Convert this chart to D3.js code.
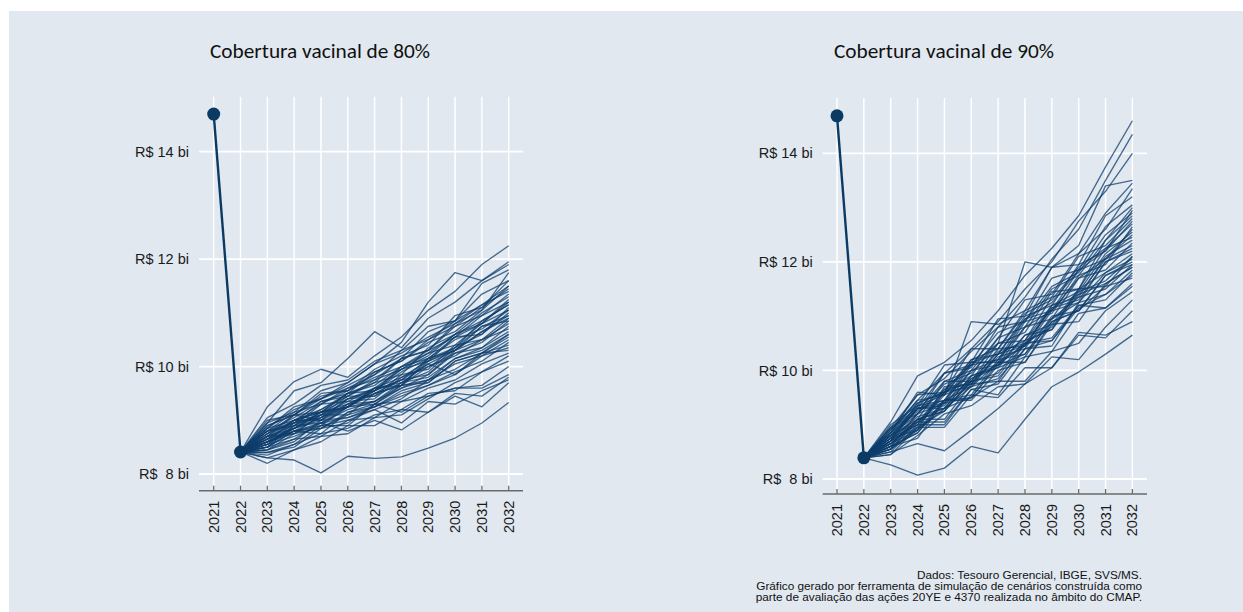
<!DOCTYPE html>
<html lang="pt-BR">
<head>
<meta charset="utf-8">
<script src="https://cdn.jsdelivr.net/npm/d3@7"></script>
<style>
  html, body { margin: 0; padding: 0; background: #ffffff; }
  svg { display: block; }
  .titulo { font-family: Carlito, Calibri, "Open Sans", sans-serif; font-size: 21.3px; font-weight: 400; fill: #111; }
  .rotulo { font-family: "Liberation Sans", Arial, sans-serif; font-size: 14.5px; fill: #1a1a1a; }
  .fonte { font-family: "Liberation Sans", Arial, sans-serif; font-size: 10px; fill: #111; }
</style>
</head>
<body>
<svg id="grafico" width="1243" height="612"></svg>
<script>
// Anos do horizonte de projeção
const anos = [2021, 2022, 2023, 2024, 2025, 2026, 2027, 2028, 2029, 2030, 2031, 2032];
const anosSimulados = anos.slice(1); // cada simulação parte de 2022

// Marcas do eixo vertical (R$ bilhões)
const ticksY = [8, 10, 12, 14];
const rotulosY = ["R$  8 bi", "R$ 10 bi", "R$ 12 bi", "R$ 14 bi"];

const titulos = ["Cobertura vacinal de 80%", "Cobertura vacinal de 90%"];

const notaFonte = [
  "Dados: Tesouro Gerencial, IBGE, SVS/MS.",
  "Gráfico gerado por ferramenta de simulação de cenários construída como",
  "parte de avaliação das ações 20YE e 4370 realizada no âmbito do CMAP."
];

// Valores observados 2021–2022
const historico80 = [14.70, 8.41];
const historico90 = [14.69, 8.39];

// Trajetórias simuladas 2023–2032, cobertura de 80%
const simulacoes80 = [
  [8.30, 8.26, 8.02, 8.33, 8.29, 8.32, 8.48, 8.67, 8.95, 9.33],
  [9.25, 9.72, 9.95, 9.80, 10.20, 10.55, 11.05, 11.40, 11.90, 12.25],
  [8.95, 9.55, 9.70, 10.15, 10.65, 10.35, 10.90, 11.20, 11.60, 11.95],
  [8.85, 9.20, 9.40, 9.70, 10.05, 10.45, 11.20, 11.75, 11.60, 11.90],
  [8.60, 8.80, 8.95, 9.05, 9.20, 8.95, 9.35, 9.30, 9.55, 9.75],
  [8.50, 8.65, 8.95, 8.80, 9.00, 8.82, 9.15, 9.45, 9.25, 9.70],
  [8.70, 9.00, 9.15, 9.50, 9.55, 10.00, 10.25, 10.60, 10.80, 11.25],
  [8.80, 9.05, 9.35, 9.50, 9.90, 10.10, 10.50, 10.75, 11.10, 11.45],
  [8.65, 8.80, 9.05, 9.25, 9.55, 9.75, 10.05, 10.30, 10.75, 10.95],
  [8.55, 8.85, 9.05, 9.30, 9.35, 9.70, 9.80, 10.15, 10.35, 10.75],
  [8.90, 9.10, 9.45, 9.55, 9.80, 10.00, 10.30, 10.55, 10.95, 11.20],
  [8.45, 8.75, 8.85, 9.10, 9.25, 9.50, 9.65, 9.90, 10.10, 10.45],
  [8.75, 8.95, 9.20, 9.45, 9.75, 9.95, 10.25, 10.40, 10.80, 11.05],
  [8.60, 8.80, 8.90, 9.25, 9.30, 9.60, 9.85, 10.25, 10.35, 10.65],
  [8.35, 8.55, 8.90, 8.90, 9.30, 9.35, 9.60, 9.75, 10.05, 10.25],
  [8.70, 9.10, 9.00, 9.40, 9.60, 9.95, 10.10, 10.55, 10.60, 11.10],
  [9.05, 9.30, 9.65, 9.75, 10.10, 10.30, 10.75, 10.85, 11.35, 11.60],
  [8.50, 8.80, 8.75, 9.15, 9.30, 9.65, 9.70, 10.10, 10.25, 10.55],
  [8.80, 8.90, 9.30, 9.35, 9.60, 9.65, 10.15, 10.30, 10.65, 10.90],
  [8.65, 8.95, 9.10, 9.35, 9.40, 9.80, 10.00, 10.25, 10.45, 10.85],
  [8.40, 8.55, 8.75, 8.85, 9.10, 9.20, 9.50, 9.55, 9.90, 10.10],
  [8.85, 9.25, 9.40, 9.60, 9.85, 10.30, 10.50, 10.85, 11.15, 11.50],
  [8.60, 8.85, 9.10, 9.10, 9.50, 9.65, 10.00, 10.20, 10.50, 10.70],
  [8.70, 8.85, 9.15, 9.30, 9.55, 9.75, 10.15, 10.35, 10.85, 11.15],
  [8.45, 8.65, 8.70, 9.00, 9.05, 9.35, 9.45, 9.60, 9.60, 9.85],
  [8.75, 9.10, 9.15, 9.50, 9.70, 10.15, 10.30, 10.75, 10.95, 11.35],
  [8.55, 8.70, 8.90, 9.00, 9.20, 9.40, 9.75, 9.95, 10.25, 10.40],
  [8.95, 9.15, 9.55, 9.70, 10.05, 10.25, 10.55, 10.80, 11.15, 11.40],
  [8.60, 9.00, 9.00, 9.25, 9.55, 9.90, 10.15, 10.50, 10.70, 11.05],
  [8.30, 8.45, 8.60, 8.90, 8.90, 9.20, 9.15, 9.50, 9.45, 9.80],
  [8.80, 8.95, 9.35, 9.45, 9.70, 9.85, 10.35, 10.60, 11.00, 11.30],
  [8.65, 8.85, 9.00, 9.30, 9.50, 9.75, 9.85, 10.30, 10.50, 10.80],
  [8.50, 8.90, 8.95, 9.25, 9.35, 9.60, 9.75, 10.05, 10.20, 10.50],
  [8.90, 9.10, 9.40, 9.65, 9.90, 10.10, 10.45, 10.65, 11.05, 11.75],
  [8.70, 8.90, 9.10, 9.45, 9.45, 9.70, 9.90, 10.35, 10.60, 11.00],
  [8.45, 8.60, 9.00, 9.05, 9.25, 9.45, 9.65, 9.85, 10.20, 10.35],
  [8.75, 9.00, 9.20, 9.50, 9.65, 10.00, 10.15, 10.55, 10.80, 11.20],
  [8.60, 8.75, 8.95, 9.20, 9.35, 9.65, 9.75, 10.15, 10.30, 10.60],
  [8.55, 8.90, 9.15, 9.25, 9.60, 9.70, 10.05, 9.85, 10.25, 10.30],
  [8.85, 9.00, 9.30, 9.55, 9.85, 10.15, 10.65, 10.85, 11.55, 11.80],
  [8.40, 8.50, 8.85, 8.95, 9.30, 9.15, 9.45, 9.60, 9.65, 10.00],
  [8.65, 9.00, 9.15, 9.40, 9.55, 9.95, 10.20, 10.60, 10.85, 11.15],
  [8.70, 8.75, 9.10, 9.25, 9.60, 9.80, 10.10, 10.30, 10.65, 10.95],
  [8.50, 8.80, 8.85, 9.15, 9.25, 9.55, 9.70, 10.10, 10.25, 10.60],
  [8.80, 9.15, 9.30, 9.60, 9.75, 10.15, 10.30, 10.80, 11.05, 11.50],
  [8.60, 8.85, 9.15, 9.25, 9.50, 9.65, 10.10, 10.35, 10.75, 10.85],
  [8.20, 8.45, 8.70, 8.75, 9.05, 9.10, 9.40, 9.70, 9.90, 10.20],
  [9.00, 9.10, 9.50, 9.55, 9.95, 10.20, 10.40, 10.95, 11.10, 11.60],
  [8.55, 8.95, 9.05, 9.40, 9.45, 9.85, 9.95, 10.40, 10.50, 10.90]
];

// Trajetórias simuladas 2023–2032, cobertura de 90%
const simulacoes90 = [
  [8.26, 8.07, 8.20, 8.60, 8.48, 9.10, 9.70, 9.97, 10.30, 10.65],
  [8.50, 8.65, 8.52, 8.90, 9.30, 9.75, 10.05, 10.70, 10.65, 10.90],
  [9.05, 9.90, 10.15, 10.55, 11.10, 11.75, 12.25, 12.85, 13.75, 14.60],
  [8.95, 9.55, 9.85, 10.35, 10.80, 11.35, 12.05, 12.60, 13.50, 14.35],
  [8.90, 9.45, 9.95, 10.40, 10.90, 11.50, 12.00, 12.75, 13.30, 14.00],
  [8.85, 9.60, 9.55, 10.90, 10.85, 11.10, 11.90, 12.30, 13.40, 13.50],
  [8.70, 9.20, 9.65, 10.10, 10.50, 12.00, 11.90, 12.15, 12.90, 13.45],
  [8.60, 9.10, 9.25, 9.80, 9.90, 10.50, 10.60, 11.20, 11.15, 11.60],
  [8.75, 9.00, 9.65, 9.75, 10.40, 10.45, 11.20, 11.35, 12.10, 12.40],
  [8.65, 9.10, 9.30, 9.70, 9.85, 10.40, 10.55, 11.15, 11.40, 11.85],
  [8.80, 9.35, 9.45, 10.15, 10.15, 10.90, 11.05, 11.75, 11.95, 12.65],
  [8.55, 8.90, 9.30, 9.50, 9.80, 9.80, 10.35, 10.50, 11.10, 11.45],
  [8.95, 9.20, 9.95, 10.05, 10.80, 10.90, 11.70, 11.85, 12.65, 13.05],
  [8.70, 9.30, 9.30, 9.90, 10.05, 10.65, 10.75, 11.50, 11.55, 12.10],
  [8.60, 8.75, 9.45, 9.45, 10.00, 10.15, 10.85, 10.90, 11.60, 11.90],
  [8.85, 9.45, 9.55, 10.20, 10.30, 11.00, 11.20, 11.95, 12.20, 12.95],
  [8.75, 8.90, 9.70, 9.75, 10.25, 10.40, 11.10, 11.25, 12.00, 12.20],
  [8.45, 8.95, 8.95, 9.55, 9.50, 10.05, 10.05, 10.65, 10.60, 11.10],
  [8.90, 9.55, 9.60, 10.40, 10.40, 11.10, 11.35, 12.10, 12.30, 12.80],
  [8.65, 8.90, 9.45, 9.55, 10.20, 10.30, 11.00, 11.10, 11.75, 12.00],
  [8.80, 9.30, 9.40, 10.10, 10.20, 10.95, 11.10, 11.85, 12.05, 12.50],
  [8.70, 8.95, 9.60, 9.70, 10.30, 10.45, 11.15, 11.30, 12.00, 12.25],
  [8.55, 9.05, 9.05, 9.65, 9.75, 10.40, 10.45, 11.25, 11.40, 11.75],
  [9.00, 9.35, 10.10, 10.15, 10.95, 11.00, 11.90, 11.95, 12.85, 13.20],
  [8.75, 9.30, 9.35, 10.00, 10.10, 10.80, 10.95, 11.70, 11.85, 12.35],
  [8.60, 8.85, 9.45, 9.50, 10.15, 10.15, 10.90, 11.10, 11.55, 11.70],
  [8.85, 9.35, 9.55, 10.15, 10.30, 10.95, 11.25, 11.85, 12.20, 12.75],
  [8.65, 9.05, 9.45, 9.70, 10.15, 10.45, 10.95, 11.25, 11.80, 12.05],
  [8.80, 9.10, 9.80, 9.80, 10.50, 10.55, 11.35, 11.50, 12.25, 12.45],
  [8.50, 9.00, 9.00, 9.65, 9.55, 10.25, 10.35, 11.05, 11.15, 11.55],
  [8.95, 9.30, 9.95, 10.10, 10.70, 10.90, 11.55, 11.80, 12.50, 12.90],
  [8.70, 9.15, 9.30, 9.90, 10.10, 10.65, 10.85, 11.50, 11.80, 12.15],
  [8.60, 8.85, 9.40, 9.50, 10.10, 10.30, 10.90, 11.10, 11.75, 11.95],
  [8.75, 9.30, 9.45, 10.00, 10.20, 10.80, 11.10, 11.70, 12.05, 12.60],
  [8.85, 9.25, 9.80, 10.00, 10.60, 10.80, 11.50, 11.75, 12.40, 13.00],
  [8.65, 9.10, 9.25, 9.80, 9.95, 10.55, 10.75, 11.40, 11.60, 11.90],
  [8.80, 9.05, 9.60, 9.80, 10.35, 10.50, 11.15, 11.40, 12.05, 12.30],
  [8.55, 9.10, 9.10, 9.75, 9.80, 10.50, 10.55, 11.20, 11.30, 11.80],
  [8.90, 9.40, 9.60, 10.20, 10.40, 11.05, 11.30, 11.90, 12.25, 12.70],
  [8.70, 9.00, 9.55, 9.75, 10.30, 10.55, 11.20, 11.45, 12.15, 12.55],
  [8.60, 9.20, 9.40, 9.85, 10.10, 10.50, 10.80, 11.45, 11.65, 12.10],
  [8.80, 9.20, 9.75, 9.95, 10.50, 10.70, 11.45, 11.50, 12.40, 12.85],
  [8.45, 8.80, 9.20, 9.35, 9.70, 9.75, 10.25, 10.20, 10.80, 11.30],
  [8.70, 9.40, 9.60, 9.90, 10.60, 11.30, 11.40, 12.15, 12.60, 13.35],
  [8.55, 8.95, 9.25, 9.85, 10.05, 10.25, 10.95, 11.35, 11.50, 11.95]
];

// Geometria de cada painel (área de plotagem)
const paineis = [
  { titulo: titulos[0], historico: historico80, simulacoes: simulacoes80,
    tituloX: 210, tituloY: 58,
    xIni: 213.7, xFim: 508.7, grLeft: 199, grRight: 523,
    y8: 474, y14: 151.7, yEixo: 490.7, yTopo: 96.7 },
  { titulo: titulos[1], historico: historico90, simulacoes: simulacoes90,
    tituloX: 834, tituloY: 58,
    xIni: 837, xFim: 1132.4, grLeft: 822.7, grRight: 1147,
    y8: 479, y14: 153.3, yEixo: 494, yTopo: 98 }
];

const svg = d3.select("#grafico");

// Fundo
svg.append("rect")
  .attr("x", 9).attr("y", 11)
  .attr("width", 1234).attr("height", 601)
  .attr("fill", "#e1e8f0");

const corLinha = "#0d3e6c";

paineis.forEach(p => {
  const x = d3.scaleLinear().domain([anos[0], anos[anos.length - 1]]).range([p.xIni, p.xFim]);
  const y = d3.scaleLinear().domain([8, 14]).range([p.y8, p.y14]);
  const g = svg.append("g");

  // Grade vertical
  g.selectAll(".gv").data(anos).join("line")
    .attr("x1", d => x(d)).attr("x2", d => x(d))
    .attr("y1", p.yTopo).attr("y2", p.yEixo - 5)
    .attr("stroke", "#ffffff").attr("stroke-width", 1.5);

  // Grade horizontal
  g.selectAll(".gh").data(ticksY).join("line")
    .attr("x1", p.grLeft).attr("x2", p.grRight)
    .attr("y1", d => y(d)).attr("y2", d => y(d))
    .attr("stroke", "#ffffff").attr("stroke-width", 1.8);

  // Rótulos do eixo Y
  g.selectAll(".ry").data(ticksY).join("text")
    .attr("class", "rotulo")
    .attr("xml:space", "preserve")
    .style("white-space", "pre")
    .attr("x", p.grLeft - 10)
    .attr("y", d => y(d))
    .attr("dy", "0.35em")
    .attr("text-anchor", "end")
    .text((d, i) => rotulosY[i]);

  // Eixo X
  g.append("line")
    .attr("x1", p.grLeft).attr("x2", p.grRight)
    .attr("y1", p.yEixo).attr("y2", p.yEixo)
    .attr("stroke", "#6a6a6a").attr("stroke-width", 1.5);
  g.selectAll(".tx").data(anos).join("line")
    .attr("x1", d => x(d)).attr("x2", d => x(d))
    .attr("y1", p.yEixo - 5).attr("y2", p.yEixo)
    .attr("stroke", "#6a6a6a").attr("stroke-width", 1.2);
  g.selectAll(".rx").data(anos).join("text")
    .attr("class", "rotulo")
    .attr("transform", d => `translate(${x(d)},${p.yEixo + 10}) rotate(-90)`)
    .attr("text-anchor", "end")
    .attr("dy", "0.35em")
    .text(d => d);

  // Trajetórias simuladas
  const linha = d3.line().x(d => x(d[0])).y(d => y(d[1]));
  g.selectAll(".sim").data(p.simulacoes).join("path")
    .attr("d", s => linha([[anosSimulados[0], p.historico[1]]].concat(s.map((v, i) => [anosSimulados[i + 1], v]))))
    .attr("fill", "none")
    .attr("stroke", corLinha)
    .attr("stroke-opacity", 0.75)
    .attr("stroke-width", 1.35)
    .attr("stroke-linejoin", "round");

  // Série observada
  const obs = p.historico.map((v, i) => [anos[i], v]);
  g.append("path")
    .attr("d", linha(obs))
    .attr("fill", "none")
    .attr("stroke", "#0b3a63")
    .attr("stroke-width", 2.4);
  g.selectAll(".pt").data(obs).join("circle")
    .attr("cx", d => x(d[0])).attr("cy", d => y(d[1]))
    .attr("r", 6.5)
    .attr("fill", "#0b3a63");

  // Título
  g.append("text")
    .attr("class", "titulo")
    .attr("x", p.tituloX).attr("y", p.tituloY)
    .text(p.titulo);
});

// Nota de fonte (texto levemente alargado na horizontal)
svg.append("g")
  .attr("transform", "translate(1142,0) scale(1.18,1)")
  .selectAll("text").data(notaFonte).join("text")
  .attr("class", "fonte")
  .attr("x", 0)
  .attr("y", (d, i) => 579.5 + i * 11)
  .attr("text-anchor", "end")
  .text(d => d);
</script>
</body>
</html>
